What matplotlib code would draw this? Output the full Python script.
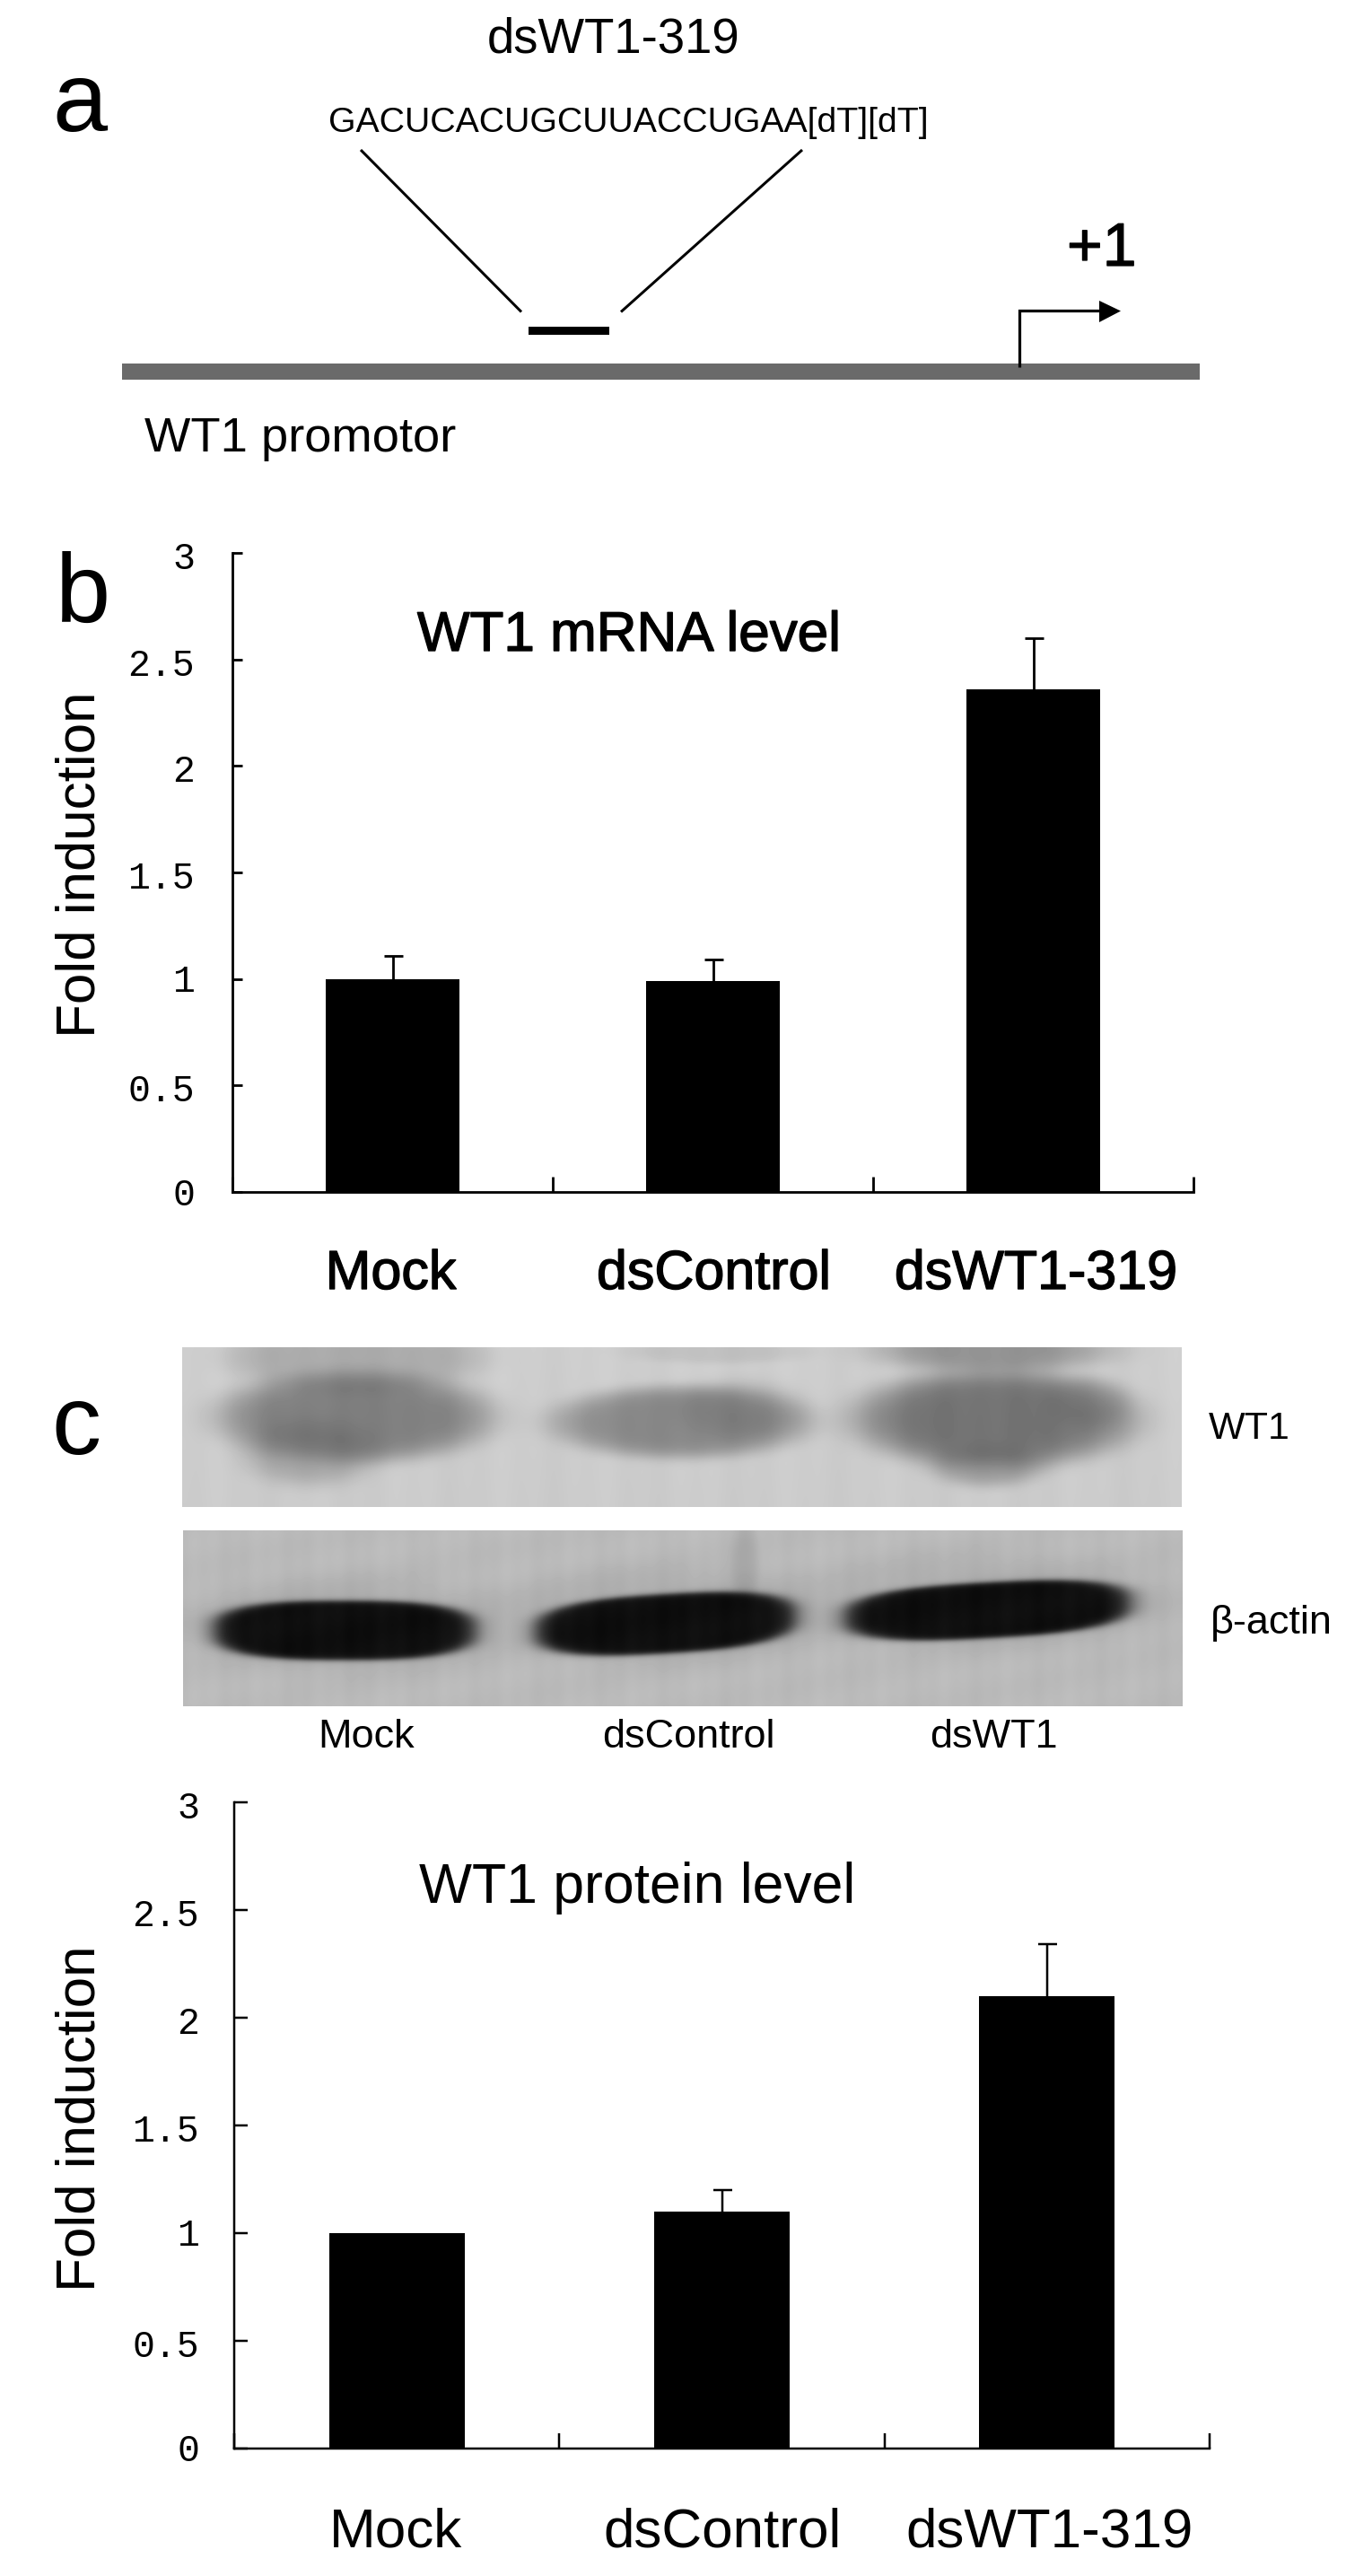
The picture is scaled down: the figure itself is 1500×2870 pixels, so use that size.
import numpy as np
import matplotlib
matplotlib.use("Agg")
import matplotlib.pyplot as plt
import matplotlib.patheffects as pe
from matplotlib.patches import Rectangle, Polygon
from matplotlib.transforms import ScaledTranslation

W, H = 1500, 2870
plt.rcParams['font.family'] = ['Liberation Sans', 'DejaVu Sans']

# ---- data ----
groups = ['Mock', 'dsControl', 'dsWT1-319']
mrna_values = [1.00, 0.99, 2.36]
mrna_errors = [0.11, 0.10, 0.24]
protein_values = [1.00, 1.10, 2.10]
protein_errors = [0.00, 0.10, 0.24]
y_ticks = [0, 0.5, 1, 1.5, 2, 2.5, 3]
y_tick_labels = ['0', '0.5', '1', '1.5', '2', '2.5', '3']
gel_lanes = ['Mock', 'dsControl', 'dsWT1']
sequence = 'GACUCACUGCUUACCUGAA[dT][dT]'


def pt(px):
    return px * 0.72


fig = plt.figure(figsize=(W / 100, H / 100), dpi=100, facecolor='white')

# overlay in pixel coordinates for the schematic, blots and panel letters
ov = fig.add_axes([0, 0, 1, 1])
ov.set_xlim(0, W)
ov.set_ylim(H, 0)
ov.axis('off')


def band(X, Y, x0, x1, yl, yr, hh, p=2.7, soft=0.11):
    """Soft capsule band; centre runs from yl at x0 to yr at x1."""
    cx = (x0 + x1) / 2
    hw = (x1 - x0) / 2
    cy = yl + (yr - yl) * (X - x0) / (x1 - x0)
    r = ((np.abs(X - cx) / hw) ** p + (np.abs(Y - cy) / hh) ** p) ** (1 / p)
    return 1 / (1 + np.exp((r - 1) / soft * 2.2))


def lobe(X, Y, cx, cy, sx, sy, k, q=2.0):
    return k * np.exp(-(((X - cx) / sx) ** 2 + ((Y - cy) / sy) ** 2) ** q)


def combine(base, parts, depth):
    keep = np.ones_like(base, dtype=float)
    for part in parts:
        keep *= 1 - part
    return base - depth * (1 - keep)


# upper blot (WT1)
X, Y = np.meshgrid(np.arange(203, 1317), np.arange(1501, 1679))
g1 = 206 + 1.5 * np.sin(X / 17.0) + 1.0 * np.sin(X / 6.3 + 1) - 3 * (Y - 1501) / 178
g1 = combine(g1, [
    lobe(X, Y, 396, 1578, 152, 50, 0.66, q=3),
    lobe(X, Y, 345, 1618, 72, 36, 0.35),
    lobe(X, Y, 396, 1510, 142, 42, 0.30, q=3),
    lobe(X, Y, 758, 1584, 142, 40, 0.58, q=3),
    lobe(X, Y, 825, 1570, 70, 32, 0.25),
    lobe(X, Y, 800, 1505, 100, 14, 0.12),
    lobe(X, Y, 1108, 1580, 156, 54, 0.76, q=3),
    lobe(X, Y, 1212, 1562, 44, 28, 0.22),
    lobe(X, Y, 1100, 1632, 62, 24, 0.40),
    lobe(X, Y, 1105, 1503, 130, 26, 0.50),
], 118)
ov.imshow(g1, cmap='gray', vmin=0, vmax=255, extent=(203, 1317, 1679, 1501),
          aspect='auto', interpolation='bilinear', zorder=1)

# lower blot (beta-actin)
X, Y = np.meshgrid(np.arange(204, 1318), np.arange(1705, 1901))
g2 = 186 + 1.5 * np.sin(X / 11.0) + 1.5 * np.sin(Y / 9.0 + X / 40.0) + 1.0 * np.sin(X / 3.7)
g2 = combine(g2, [
    lobe(X, Y, 830, 1745, 16, 55, 0.10),
    lobe(X, Y, 385, 1810, 185, 55, 0.08),
    lobe(X, Y, 745, 1800, 185, 55, 0.08),
    lobe(X, Y, 1100, 1785, 195, 55, 0.08),
    band(X, Y, 238, 529, 1816, 1816, 33),
    band(X, Y, 597, 886, 1817, 1800, 33),
    band(X, Y, 942, 1259, 1802, 1785, 31),
], 172)
ov.imshow(g2, cmap='gray', vmin=0, vmax=255, extent=(204, 1318, 1901, 1705),
          aspect='auto', interpolation='bilinear', zorder=1)
ov.set_xlim(0, W)
ov.set_ylim(H, 0)

# panel a schematic
ov.add_patch(Rectangle((136, 404.5), 1201, 18, fc='#6a6a6a', ec='none'))
ov.add_patch(Rectangle((589, 363.5), 90, 9.5, fc='black', ec='none'))
ov.plot([402, 581], [167, 347.5], color='black', lw=pt(3), solid_capstyle='butt')
ov.plot([894, 692], [167, 347.5], color='black', lw=pt(3), solid_capstyle='butt')
ov.plot([1136, 1136, 1227], [409, 346, 346], color='black', lw=pt(3.2),
        solid_joinstyle='miter', solid_capstyle='butt')
ov.add_patch(Polygon([(1225, 335), (1249, 346.5), (1225, 359)], closed=True, fc='black', ec='none'))


def txt(x, y, s, px, ha='left', bold=0.0, **kw):
    t = ov.text(x, y, s, fontsize=pt(px), ha=ha, va='baseline', color='black', **kw)
    if bold:
        t.set_path_effects([pe.withStroke(linewidth=pt(bold), foreground='black')])
    return t


txt(684, 58.6, 'dsWT1-319', 54.6, ha='center')
txt(366.5, 146.6, sequence, 39.2)
txt(1189, 296, '+1', 68, bold=1.2)
txt(161, 502.5, 'WT1 promotor', 54.4)
txt(58, 146, 'a', 110)
txt(62, 693, 'b', 110)
txt(57, 1620, 'c', 110)
txt(1347, 1603, 'WT1', 43)
txt(1349, 1820, 'β-actin', 45)
for cx, lab in zip([408, 767, 1107], gel_lanes):
    txt(cx, 1947, lab, 45, ha='center')


def bar_panel(box, values, errors, title, title_x, title_y, title_px, bar_w, label_dx, ylabel_x, ylabel_y,
              base_y, lw, tick_y, tick_x, tick_pad, label_px, label_bold):
    left, right, bottom, top = box
    ax = fig.add_axes([left / W, 1 - bottom / H, (right - left) / W, (bottom - top) / H])
    ax.patch.set_alpha(0)
    pos = np.arange(len(values)) + 0.5
    ax.bar(pos, values, width=bar_w, color='black', linewidth=0)
    keep = [i for i, e in enumerate(errors) if e > 0]
    eb = ax.errorbar(pos[keep], np.array(values)[keep],
                     yerr=[np.zeros(len(keep)), np.array(errors)[keep]],
                     fmt='none', ecolor='black', elinewidth=pt(lw), capsize=pt(10.5), capthick=pt(lw))
    eb[1][0].set_visible(False)  # lower caps would sit on the bar top
    ax.set_xlim(0, 3)
    ax.set_ylim(0, 3)
    for s in ('top', 'right'):
        ax.spines[s].set_visible(False)
    for s in ('left', 'bottom'):
        ax.spines[s].set_linewidth(pt(lw))
    ax.set_yticks(y_ticks)
    ax.set_yticklabels(y_tick_labels, fontfamily='Liberation Mono', fontsize=pt(41.5))
    ax.tick_params(axis='y', direction='in', length=pt(tick_y), width=pt(lw), pad=pt(tick_pad))
    ax.set_xticks([0, 1, 2, 3])
    ax.set_xticklabels([])
    ax.tick_params(axis='x', which='major', direction='in', length=pt(tick_x), width=pt(lw))
    ax.set_xticks(pos, minor=True)
    ax.set_xticklabels(groups, minor=True, fontsize=pt(label_px))
    ax.tick_params(axis='x', which='minor', length=0, pad=pt(base_y - bottom))
    for lab, dx in zip(ax.xaxis.get_ticklabels(minor=True), label_dx):
        lab.set_va('baseline')
        lab.set_transform(lab.get_transform() + ScaledTranslation(dx / 100, 0, fig.dpi_scale_trans))
        if label_bold:
            lab.set_path_effects([pe.withStroke(linewidth=pt(label_bold), foreground='black')])
    for lab, val in zip(ax.yaxis.get_ticklabels(), y_ticks):
        dy = 1 if val in (0, 1) else -2.5
        lab.set_transform(lab.get_transform() + ScaledTranslation(0, dy / 100, fig.dpi_scale_trans))
    t = ax.set_title(title, x=(title_x - left) / (right - left), y=(bottom - title_y) / (bottom - top),
                     ha='left', va='baseline', fontsize=pt(title_px), pad=0)
    if label_bold:
        t.set_path_effects([pe.withStroke(linewidth=pt(label_bold), foreground='black')])
    ax.set_ylabel('Fold induction', fontsize=pt(62), rotation=90, va='baseline', ha='center',
                  rotation_mode='anchor')
    ax.yaxis.set_label_coords(ylabel_x / W, 1 - ylabel_y / H, transform=fig.transFigure)
    return ax


bar_panel((259, 1330, 1328, 616), mrna_values, mrna_errors, 'WT1 mRNA level', 465, 725, 62, 0.42,
          [-2, 1, 3], 106, 963, 1436, 2.8, 11, 17, 42, 61, 1.4)
bar_panel((261, 1348, 2727.5, 2008), protein_values, protein_errors, 'WT1 protein level', 467, 2120, 62.5, 0.416,
          [-1, 0.5, 3], 106, 2360, 2837, 2.5, 15, 17, 39, 62, 0)

fig.savefig('out.png', dpi=100, facecolor='white')
